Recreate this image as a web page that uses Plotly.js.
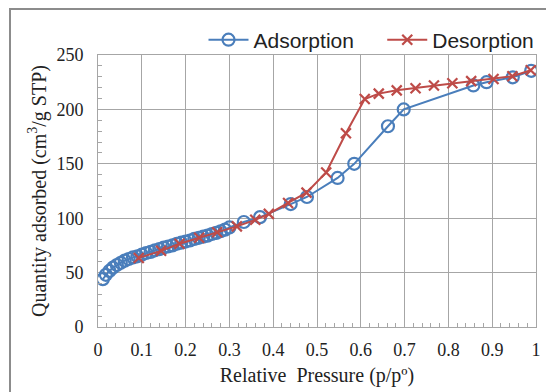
<!DOCTYPE html>
<html><head><meta charset="utf-8">
<script src="https://cdn.plot.ly/plotly-3.0.1.min.js"></script>
<style>
html,body{margin:0;padding:0;background:#fff;}
#wrap{position:relative;width:546px;height:392px;}
#chart{width:546px;height:392px;}
#frame{position:absolute;left:9px;top:8px;width:600px;height:500px;border:2px solid #8c8c8c;pointer-events:none;}
</style>
</head><body>
<div id="wrap"><div id="chart"></div><div id="frame"></div></div>
<script>
var adsX = [0.011,0.018,0.026,0.034,0.043,0.052,0.061,0.070,0.080,0.090,0.100,0.110,0.120,0.130,0.140,0.150,0.160,0.170,0.180,0.190,0.200,0.210,0.220,0.230,0.240,0.250,0.260,0.270,0.280,0.290,0.300,0.333,0.370,0.440,0.477,0.547,0.585,0.662,0.698,0.857,0.887,0.947,0.989];
var adsY = [44,48,51.5,54.5,57,59,61,62.5,64,65,66.5,68,69,70.5,71.5,73,74,75,76.5,77.5,78.5,79.5,81,82,83,84,85.5,86.5,88,89.5,91.5,96.5,101,113,119.5,137,150,184.5,200,222,225,229.5,235.5];
var desX = [0.093,0.144,0.186,0.231,0.272,0.317,0.359,0.390,0.434,0.476,0.521,0.566,0.609,0.641,0.682,0.725,0.767,0.809,0.852,0.903,0.946,0.988];
var desY = [63.5,70,76.5,82,87,92.5,98.5,104,114,123.5,142,178,209.5,214.5,217.5,219.5,222,224,226,228,230.5,236];

var grid = '#a6a6a6';
var serif = 'Liberation Serif, Times New Roman, serif';
var traces = [
  {x: adsX, y: adsY, name: 'Adsorption\u00a0\u00a0\u00a0\u00a0', mode: 'lines+markers', type: 'scatter',
   line: {color: '#4a7ebb', width: 2},
   marker: {symbol: 'circle-open', size: 12, color: '#4a7ebb', line: {width: 2.2, color: '#4a7ebb'}}},
  {x: desX, y: desY, name: 'Desorption', mode: 'lines+markers', type: 'scatter',
   line: {color: '#be4b48', width: 2},
   marker: {symbol: 'x-thin-open', size: 10, color: '#be4b48', line: {width: 2.2, color: '#be4b48'}}}
];
var layout = {
  width: 546, height: 392,
  margin: {l: 98, r: 6, t: 55, b: 65},
  paper_bgcolor: '#fff', plot_bgcolor: '#fff',
  showlegend: true,
  legend: {orientation: 'h', x: 1.008, xanchor: 'right', y: 1.055, yanchor: 'middle',
           font: {family: 'Liberation Sans', size: 21, color: '#222'},
           itemwidth: 40, tracegroupgap: 0, bgcolor: 'rgba(0,0,0,0)'},
  xaxis: {range: [0, 1], dtick: 0.1, tick0: 0, showgrid: true, gridcolor: grid, gridwidth: 1,
          showline: true, linecolor: grid, linewidth: 1, mirror: true, zeroline: false,
          ticks: '', ticklabelstandoff: 6, tickfont: {family: serif, size: 18, color: '#222'},
          minor: {dtick: 0.02, ticks: 'inside', ticklen: 4, tickcolor: grid, showgrid: false},
          title: {text: 'Relative  Pressure (p/p\u00ba)', standoff: 9,
                  font: {family: serif, size: 20, color: '#222'}}},
  yaxis: {range: [0, 250], dtick: 50, tick0: 0, showgrid: true, gridcolor: grid, gridwidth: 1,
          showline: true, linecolor: grid, linewidth: 1, mirror: true, zeroline: false,
          ticks: '', ticklabelstandoff: 10, tickfont: {family: serif, size: 18, color: '#222'},
          minor: {dtick: 10, ticks: 'inside', ticklen: 4, tickcolor: grid, showgrid: false},
          title: {text: 'Quantity adsorbed (cm<sup>3</sup>/g STP)', standoff: 4,
                  font: {family: serif, size: 20, color: '#222'}}}
};
Plotly.newPlot('chart', traces, layout, {displayModeBar: false, responsive: false});
</script>
</body></html>
